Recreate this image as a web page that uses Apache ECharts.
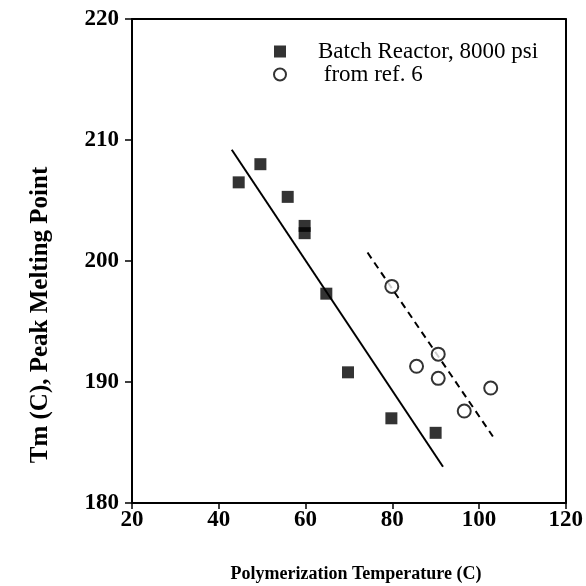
<!DOCTYPE html>
<html>
<head>
<meta charset="utf-8">
<script src="https://cdn.jsdelivr.net/npm/echarts@6/dist/echarts.min.js"></script>
<style>
  html, body { margin: 0; padding: 0; background: #fff; }
  #chart { width: 586px; height: 586px; }
</style>
</head>
<body>
<div id="chart"></div>
<script>
// Batch reactor samples: polymerization temperature (C) vs peak melting point (C)
var batchTemp = [44.6, 49.6, 55.9, 59.8, 59.8, 64.8, 69.8, 79.8, 90.0];
var batchTm   = [206.5, 208.0, 205.3, 202.9, 202.3, 197.3, 190.8, 187.0, 185.8];

// Literature values (ref. 6)
var refTemp = [79.9, 85.6, 90.6, 90.6, 96.6, 102.7];
var refTm   = [197.9, 191.3, 192.3, 190.3, 187.6, 189.5];

// Linear fit end points for each data set
var batchFitTemp = [43.0, 91.7];
var batchFitTm   = [209.2, 183.0];
var refFitTemp   = [74.3, 103.2];
var refFitTm     = [200.7, 185.5];

var xTicks = [20, 40, 60, 80, 100, 120];
var yTicks = [180, 190, 200, 210, 220];

var xTitle = 'Polymerization Temperature (C)';
var yTitle = 'Tm (C), Peak Melting Point';
var seriesNames = ['Batch Reactor, 8000 psi', ' from ref. 6'];

function pairs(xs, ys) {
  return xs.map(function (x, i) { return [x, ys[i]]; });
}

var serif = '"Liberation Serif", "Times New Roman", serif';
var chart = echarts.init(document.getElementById('chart'), null, { renderer: 'canvas' });

chart.setOption({
  backgroundColor: '#fff',
  animation: false,
  textStyle: { fontFamily: serif, color: '#000' },
  grid: { left: 132, top: 19, right: 19, bottom: 83, show: false },
  legend: {
    orient: 'vertical',
    left: 268,
    top: 35,
    itemGap: 0,
    itemWidth: 12,
    itemHeight: 12,
    textStyle: { fontFamily: serif, fontSize: 23, lineHeight: 22, color: '#000', padding: [0, 0, 0, 27] },
    data: [
      { name: seriesNames[0], icon: 'rect' },
      { name: seriesNames[1], icon: 'circle' }
    ]
  },
  graphic: [{
    type: 'text',
    x: 356, y: 574,
    style: {
      text: xTitle,
      x: 0, y: 0,
      align: 'center', verticalAlign: 'middle',
      font: 'bold 18px ' + serif, fill: '#000'
    }
  }, {
    type: 'text',
    x: 41, y: 315,
    rotation: Math.PI / 2,
    style: {
      text: yTitle,
      x: 0, y: 0,
      align: 'center', verticalAlign: 'middle',
      font: 'bold 25px ' + serif, fill: '#000'
    }
  }],
  xAxis: [{
    type: 'value',
    min: xTicks[0], max: xTicks[xTicks.length - 1], interval: 20,
    axisLine: { show: true, onZero: false, lineStyle: { color: '#000', width: 2 } },
    axisTick: { show: true, inside: false, length: 6, lineStyle: { color: '#000', width: 1.5 } },
    axisLabel: { fontFamily: serif, fontSize: 23, fontWeight: 'bold', color: '#000', margin: 6 },
    splitLine: { show: false }
  }, {
    type: 'value', position: 'top',
    min: xTicks[0], max: xTicks[xTicks.length - 1],
    axisLine: { show: true, onZero: false, lineStyle: { color: '#000', width: 2 } },
    axisTick: { show: false }, axisLabel: { show: false }, splitLine: { show: false }
  }],
  yAxis: [{
    type: 'value',
    min: yTicks[0], max: yTicks[yTicks.length - 1], interval: 10,
    axisLine: { show: true, onZero: false, lineStyle: { color: '#000', width: 2 } },
    axisTick: { show: true, inside: false, length: 7, lineStyle: { color: '#000', width: 1.5 } },
    axisLabel: { fontFamily: serif, fontSize: 23, fontWeight: 'bold', color: '#000', margin: 13 },
    splitLine: { show: false }
  }, {
    type: 'value', position: 'right',
    min: yTicks[0], max: yTicks[yTicks.length - 1],
    axisLine: { show: true, onZero: false, lineStyle: { color: '#000', width: 2 } },
    axisTick: { show: false }, axisLabel: { show: false }, splitLine: { show: false }
  }],
  series: [{
    name: seriesNames[0],
    type: 'scatter',
    symbol: 'rect',
    symbolSize: 12,
    itemStyle: { color: '#000' },
    data: pairs(batchTemp, batchTm),
    z: 5
  }, {
    name: seriesNames[1],
    type: 'scatter',
    symbol: 'circle',
    symbolSize: 13,
    itemStyle: { color: '#fff', borderColor: '#000', borderWidth: 2 },
    data: pairs(refTemp, refTm),
    z: 5
  }, {
    name: 'batch fit',
    type: 'line',
    symbol: 'none',
    lineStyle: { color: '#000', width: 2 },
    data: pairs(batchFitTemp, batchFitTm),
    z: 3
  }, {
    name: 'ref fit',
    type: 'line',
    symbol: 'none',
    lineStyle: { color: '#000', width: 2, type: [7, 5] },
    data: pairs(refFitTemp, refFitTm),
    z: 3
  }]
});
</script>
</body>
</html>
